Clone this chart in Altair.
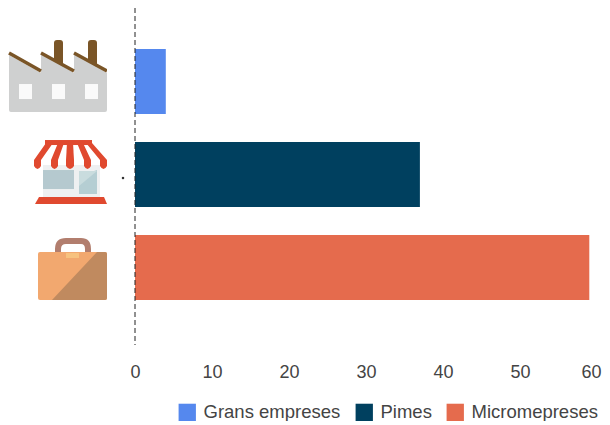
import altair as alt
import pandas as pd
from urllib.parse import quote

categories = ["Grans empreses", "Pimes", "Micromepreses"]
values = [4, 37, 59]
colors = ["#5588ee", "#00405f", "#e56b4d"]
x_ticks = [0, 10, 20, 30, 40, 50, 60]

svg_head = '<svg xmlns="http://www.w3.org/2000/svg" width="100" height="93" viewBox="0 0 100 93">'
factory = svg_head + (
    '<g transform="translate(-7,-35)">'
    '<rect x="54" y="40" width="9" height="30" rx="3" fill="#7a5527"/>'
    '<rect x="88" y="40" width="9" height="30" rx="3" fill="#7a5527"/>'
    '<path d="M9 55L41 73V53L74 73V53L107 73V110q0 2-2 2H11q-2 0-2-2Z" fill="#cfd0d0"/>'
    '<path d="M9 53L41 71M41 53L74 71M74 53L107 71" stroke="#7a5527" stroke-width="3.5" fill="none"/>'
    '<rect x="19" y="84" width="13" height="15" fill="#fafafa"/>'
    '<rect x="52" y="84" width="13" height="15" fill="#fafafa"/>'
    '<rect x="85" y="84" width="13" height="15" fill="#fafafa"/>'
    '</g></svg>'
)
red = "#e0492f"
shop = svg_head + (
    '<g transform="translate(-7,-128)">'
    '<rect x="43" y="165" width="57" height="33" fill="#eef0f1"/>'
    '<rect x="43" y="170" width="31" height="19" fill="#b5c9cf"/>'
    '<path d="M79 176L97 170V194H79Z" fill="#b5ced3"/><path d="M79 171H97L79 186Z" fill="#c9dcde"/>'
    f'<g fill="{red}">'
    '<rect x="45" y="140" width="47" height="5"/>'
    '<path d="M46 143H53L41 160V166Q37.500 172 34 166V160Z"/>'
    '<path d="M58 143H64L58 160V166Q54.500 172 51 166V160Z"/>'
    '<path d="M67 143H73L74 160V166Q70 172 66 166V160Z"/>'
    '<path d="M77 143H83L91 160V166Q87.500 172 84 166V160Z"/>'
    '<path d="M86 143H92L107 160V166Q103.500 172 100 166V160Z"/>'
    '<path d="M35 204L39 197H104L107 204Z"/>'
    '</g></g></svg>'
)
case = svg_head + (
    '<g transform="translate(-7,-221)">'
    '<path d="M58 254V249Q58 241 66 241H81Q88 241 88 249V254" stroke="#b27e6e" stroke-width="6" fill="none"/>'
    '<rect x="38" y="252" width="69" height="48" rx="2" fill="#f2a86f"/>'
    '<path d="M97 252H105Q107 252 107 254V298Q107 300 105 300H52Z" fill="#c08a5f"/>'
    '<rect x="66" y="253" width="13" height="5" fill="#f7c27f"/>'
    '</g></svg>'
)
icons = [factory, shop, case]
urls = ["data:image/svg+xml," + quote(s) for s in icons]

df = pd.DataFrame({"cat": categories, "val": values, "url": urls})

y = alt.Y("cat:N", sort=categories, axis=None,
          scale=alt.Scale(paddingInner=0.3, paddingOuter=0.462, align=0.477))
x = alt.X("val:Q", scale=alt.Scale(domain=[0, 60], nice=False),
          axis=alt.Axis(values=x_ticks, title=None, grid=False, domain=False, ticks=False,
                        labelFontSize=18, labelColor="#444444", labelFont="Liberation Sans",
                        labelPadding=18, labelFlush=False, format="d",
                        labelOffset=alt.condition("datum.value == 60", alt.value(-6), alt.value(0))))

bars = alt.Chart(df).mark_bar().encode(
    x=x, y=y,
    color=alt.Color("cat:N", sort=categories,
                    scale=alt.Scale(domain=categories, range=colors),
                    legend=alt.Legend(title=None, orient="none", direction="horizontal",
                                      columns=3, legendX=43, legendY=395,
                                      symbolType="square", symbolSize=300, symbolStrokeWidth=0,
                                      symbolOpacity=1,
                                      labelFontSize=18.5, labelColor="#444444",
                                      labelFont="Liberation Sans", labelOffset=7,
                                      columnPadding=14)),
)
rule = alt.Chart(pd.DataFrame({"z": [0]})).mark_rule(
    color="#222222", strokeDash=[5, 3], strokeWidth=1
).encode(x=alt.X("z:Q"))
images = alt.Chart(df).mark_image(width=100, height=93, align="right", baseline="middle").encode(
    x=alt.value(-28), y=y, url="url:N"
)
dot = alt.Chart(df[df["cat"] == "Pimes"]).mark_point(
    shape="square", size=5, filled=True, color="#333333", opacity=1, yOffset=3.5
).encode(x=alt.value(-12), y=y)

chart = alt.layer(bars, rule, images, dot).properties(
    width=462, height=337, background="white",
    padding={"left": 127, "top": 0, "right": 5, "bottom": 76},
    autosize=alt.AutoSizeParams(type="none"),
).configure_view(stroke=None)

chart.save("out.html", embed_options={"renderer": "svg", "actions": False})
